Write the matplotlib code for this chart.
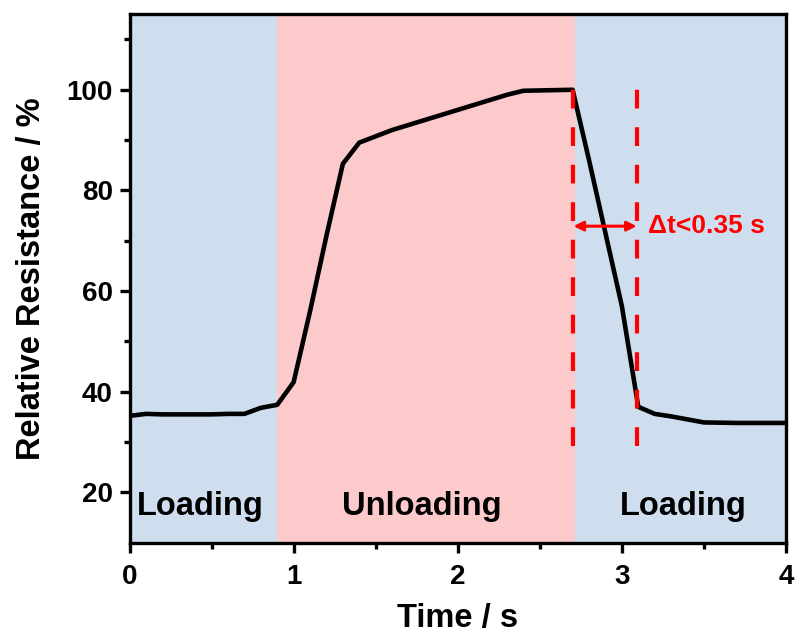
import matplotlib
matplotlib.use("Agg")
import matplotlib.pyplot as plt

# data
time_s = [0.0, 0.1, 0.2, 0.3, 0.4, 0.5, 0.6, 0.7, 0.8, 0.9, 1.0, 1.1, 1.2, 1.3, 1.4, 1.6,
          1.8, 2.0, 2.2, 2.3, 2.4, 2.7, 2.8, 2.9, 3.0, 3.1, 3.2, 3.3, 3.5, 3.7, 4.0]
resistance = [35.2, 35.6, 35.5, 35.5, 35.5, 35.5, 35.6, 35.6, 36.8, 37.4, 41.9, 56.0, 71.0, 85.3,
              89.5, 92.0, 94.0, 96.0, 98.0, 99.0, 99.8, 100.0, 86.0, 71.5, 57.0, 37.0, 35.6,
              35.1, 33.9, 33.8, 33.8]

phase_edges = [0.0, 0.9, 2.717, 4.0]
phase_labels = ["Loading", "Unloading", "Loading"]
phase_label_x = [0.432, 1.78, 3.376]
phase_colors = ["#cfdeee", "#fdcacb", "#cfdeee"]

dash_x = [2.705, 3.09]
dash_ylim = (29.3, 102.3)
arrow_y = 72.9
dt_text = "Δt<0.35 s"

plt.rcParams['font.family'] = ['Liberation Sans', 'DejaVu Sans']
plt.rcParams['font.weight'] = 'bold'

fig = plt.figure(figsize=(7.97, 6.37), dpi=100)
ax = fig.add_axes([0.1625, 0.148, 0.8237, 0.8296])

for i, lab in enumerate(phase_labels):
    ax.axvspan(phase_edges[i], phase_edges[i + 1], color=phase_colors[i], lw=0, zorder=0)
    ax.text(phase_label_x[i], 15.6, lab, ha='center', va='baseline',
            fontsize=23.5, fontweight='bold', zorder=3)

ax.plot(time_s, resistance, color='black', lw=3.3, zorder=4, solid_joinstyle='round')

for xd in dash_x:
    ax.plot([xd, xd], dash_ylim, color='red', lw=3, dashes=(4.5, 4.5), zorder=5)

ax.annotate('', xy=(dash_x[0], arrow_y), xytext=(dash_x[1], arrow_y),
            arrowprops=dict(arrowstyle='<|-|>', color='red', lw=2.2,
                            mutation_scale=14, shrinkA=0, shrinkB=0), zorder=6)
ax.text(dash_x[1] + 0.07, arrow_y, dt_text, color='red', fontsize=19,
        fontweight='bold', va='center', ha='left', zorder=6)

ax.set_xlim(0, 4)
ax.set_ylim(10, 115)
ax.set_xticks([0, 1, 2, 3, 4])
ax.set_xticks([0.5, 1.5, 2.5, 3.5], minor=True)
ax.set_yticks([20, 40, 60, 80, 100])
ax.set_yticks([30, 50, 70, 90, 110], minor=True)
ax.tick_params(which='major', direction='out', length=7, width=2.4, labelsize=20, pad=5)
ax.tick_params(axis='x', which='major', pad=8)
ax.tick_params(which='minor', direction='out', length=4, width=2.4)
for s in ax.spines.values():
    s.set_linewidth(2.4)

ax.set_xlabel('Time / s', fontsize=23.5, fontweight='bold', labelpad=10)
ax.set_ylabel('Relative Resistance / %', fontsize=23.5, fontweight='bold', labelpad=14)

fig.savefig('out.png', dpi=100)
